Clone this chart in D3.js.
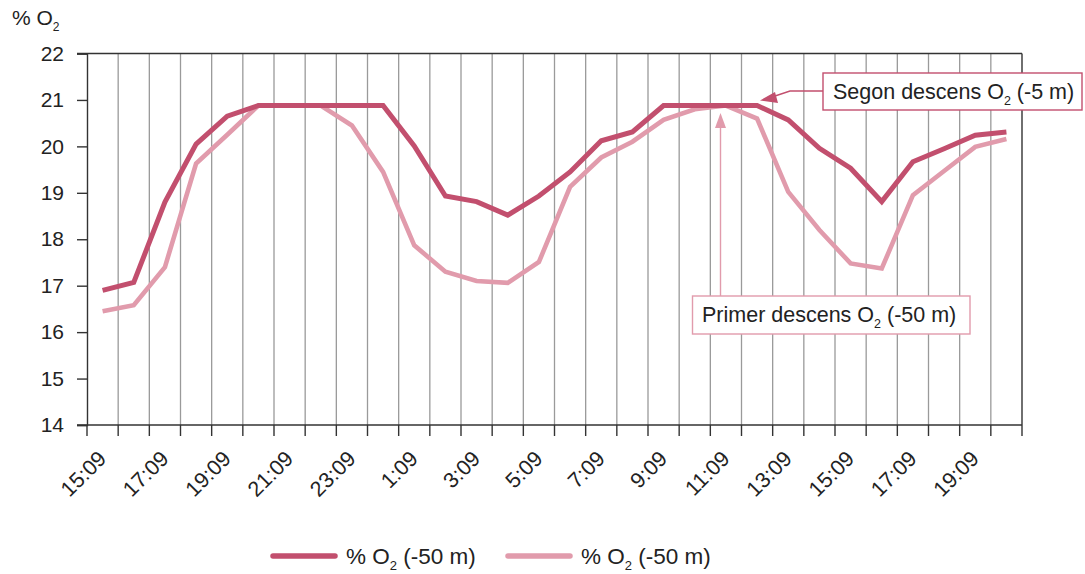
<!DOCTYPE html>
<html>
<head>
<meta charset="utf-8">
<script src="https://cdn.jsdelivr.net/npm/d3@7"></script>
<style>
  html, body { margin: 0; padding: 0; background: #fff; }
  svg { display: block; font-family: "Liberation Sans", Arial, sans-serif; }
</style>
</head>
<body>
<svg id="chart" width="1085" height="574"></svg>
<script>
const times = ["15:09","16:09","17:09","18:09","19:09","20:09","21:09","22:09","23:09","0:09",
               "1:09","2:09","3:09","4:09","5:09","6:09","7:09","8:09","9:09","10:09",
               "11:09","12:09","13:09","14:09","15:09","16:09","17:09","18:09","19:09","20:09"];
const o2Dark = [16.90,17.07,18.80,20.05,20.65,20.88,20.88,20.88,20.88,20.88,
                20.01,18.93,18.81,18.52,18.93,19.45,20.12,20.31,20.88,20.88,
                20.88,20.88,20.57,19.96,19.53,18.81,19.67,19.95,20.24,20.31];
const o2Light = [16.45,16.58,17.40,19.63,20.25,20.88,20.88,20.88,20.45,19.45,
                 17.87,17.30,17.10,17.06,17.51,19.13,19.76,20.10,20.57,20.80,
                 20.88,20.60,19.02,18.20,17.48,17.37,18.95,19.47,19.99,20.16];
const yTicks = [14,15,16,17,18,19,20,21,22];
const seriesNames = ["% O", "% O"];
const seriesSub = ["2", "2"];
const seriesSuffix = [" (-50 m)", " (-50 m)"];
const annot1 = ["Segon descens O", "2", " (-5 m)"];
const annot2 = ["Primer descens O", "2", " (-50 m)"];

const darkColor = "#c24f6e";
const lightColor = "#e19bac";
const textColor = "#222";

const svg = d3.select("#chart");
const L = 87, R = 1022, T = 53.5, B = 425;

const x = d3.scaleBand().domain(d3.range(times.length)).range([L, R]).padding(0);
const y = d3.scaleLinear().domain([14, 22]).range([B, T]);
const bw = x.bandwidth();

// vertical gridlines at band boundaries
const bounds = d3.range(times.length + 1).map(i => L + i * bw);
svg.append("g").selectAll("line").data(bounds.slice(1, -1)).join("line")
  .attr("x1", d => d).attr("x2", d => d).attr("y1", T).attr("y2", B)
  .attr("stroke", "#9a9a9a").attr("stroke-width", 1.3);

// frame: top & right
svg.append("line").attr("x1", L - 10).attr("x2", R).attr("y1", T).attr("y2", T)
  .attr("stroke", "#333").attr("stroke-width", 1.4);
svg.append("line").attr("x1", R).attr("x2", R).attr("y1", T).attr("y2", B)
  .attr("stroke", "#333").attr("stroke-width", 1.4);

// y axis
const yAxis = d3.axisLeft(y).tickValues(yTicks).tickSize(10).tickPadding(13).tickFormat(d3.format("d"));
const gy = svg.append("g").attr("transform", `translate(${L},0)`).call(yAxis);
gy.select(".domain").attr("stroke", "#333").attr("stroke-width", 1.4);
gy.selectAll(".tick line").attr("stroke", "#333").attr("stroke-width", 1.4);
gy.selectAll(".tick text").attr("font-size", 21).attr("fill", textColor)
  .attr("font-family", "Liberation Sans, Arial, sans-serif");

// x axis line + ticks at boundaries
svg.append("line").attr("x1", L - 10).attr("x2", R).attr("y1", B).attr("y2", B)
  .attr("stroke", "#333").attr("stroke-width", 1.4);
svg.append("g").selectAll("line").data(bounds).join("line")
  .attr("x1", d => d).attr("x2", d => d).attr("y1", B).attr("y2", B + 11)
  .attr("stroke", "#333").attr("stroke-width", 1.4);

// x labels every other category
svg.append("g").selectAll("text").data(times.map((t, i) => ({t, i})).filter(d => d.i % 2 === 0)).join("text")
  .attr("transform", d => `translate(${x(d.i) + bw / 2 + 5},${B + 35}) rotate(-45)`)
  .attr("text-anchor", "end")
  .attr("font-size", 21.5).attr("fill", textColor)
  .text(d => d.t);

// y label
const yl = svg.append("text").attr("x", 12).attr("y", 25).attr("font-size", 21).attr("fill", textColor);
yl.append("tspan").text("% O");
yl.append("tspan").attr("font-size", 12).attr("dy", 6).text("2");

// lines
const line = d3.line().x((d, i) => x(i) + bw / 2).y(d => y(d));
svg.append("path").datum(o2Light).attr("d", line).attr("fill", "none")
  .attr("stroke", lightColor).attr("stroke-width", 4.6).attr("stroke-linejoin", "miter").attr("stroke-linecap", "butt");
svg.append("path").datum(o2Dark).attr("d", line).attr("fill", "none")
  .attr("stroke", darkColor).attr("stroke-width", 5).attr("stroke-linejoin", "miter").attr("stroke-linecap", "butt");

// annotation 1 (Segon)
const a1 = svg.append("g");
a1.append("polyline").attr("points", "823,91 790,91 772,97").attr("fill", "none")
  .attr("stroke", darkColor).attr("stroke-width", 1.4);
a1.append("path").attr("d", "M760,100.5 L775,92 L778,103 Z").attr("fill", darkColor);
a1.append("rect").attr("x", 823).attr("y", 73).attr("width", 259).attr("height", 37)
  .attr("fill", "#fff").attr("stroke", darkColor).attr("stroke-width", 1.4);
const t1 = a1.append("text").attr("x", 833).attr("y", 99).attr("font-size", 21.5).attr("fill", textColor);
t1.append("tspan").text(annot1[0]);
t1.append("tspan").attr("font-size", 12.5).attr("dy", 6).text(annot1[1]);
t1.append("tspan").attr("dy", -6).text(annot1[2]);

// annotation 2 (Primer)
const a2 = svg.append("g");
a2.append("line").attr("x1", 720.5).attr("x2", 720.5).attr("y1", 296).attr("y2", 126)
  .attr("stroke", lightColor).attr("stroke-width", 1.4);
a2.append("path").attr("d", "M720.5,113 L726,128 L715,128 Z").attr("fill", lightColor);
a2.append("rect").attr("x", 692.5).attr("y", 296).attr("width", 277.5).attr("height", 38)
  .attr("fill", "#fff").attr("stroke", lightColor).attr("stroke-width", 1.4);
const t2 = a2.append("text").attr("x", 702).attr("y", 322).attr("font-size", 21.5).attr("fill", textColor);
t2.append("tspan").text(annot2[0]);
t2.append("tspan").attr("font-size", 12.5).attr("dy", 6).text(annot2[1]);
t2.append("tspan").attr("dy", -6).text(annot2[2]);

// legend
const legX = [273, 508];
const colors = [darkColor, lightColor];
legX.forEach((lx, i) => {
  svg.append("line").attr("x1", lx).attr("x2", lx + 62).attr("y1", 556).attr("y2", 556)
    .attr("stroke", colors[i]).attr("stroke-width", 5.5).attr("stroke-linecap", "round");
  const t = svg.append("text").attr("x", lx + 73).attr("y", 563.5).attr("font-size", 22.5).attr("fill", textColor);
  t.append("tspan").text(seriesNames[i]);
  t.append("tspan").attr("font-size", 13).attr("dy", 6).text(seriesSub[i]);
  t.append("tspan").attr("dy", -6).text(seriesSuffix[i]);
});
</script>
</body>
</html>
